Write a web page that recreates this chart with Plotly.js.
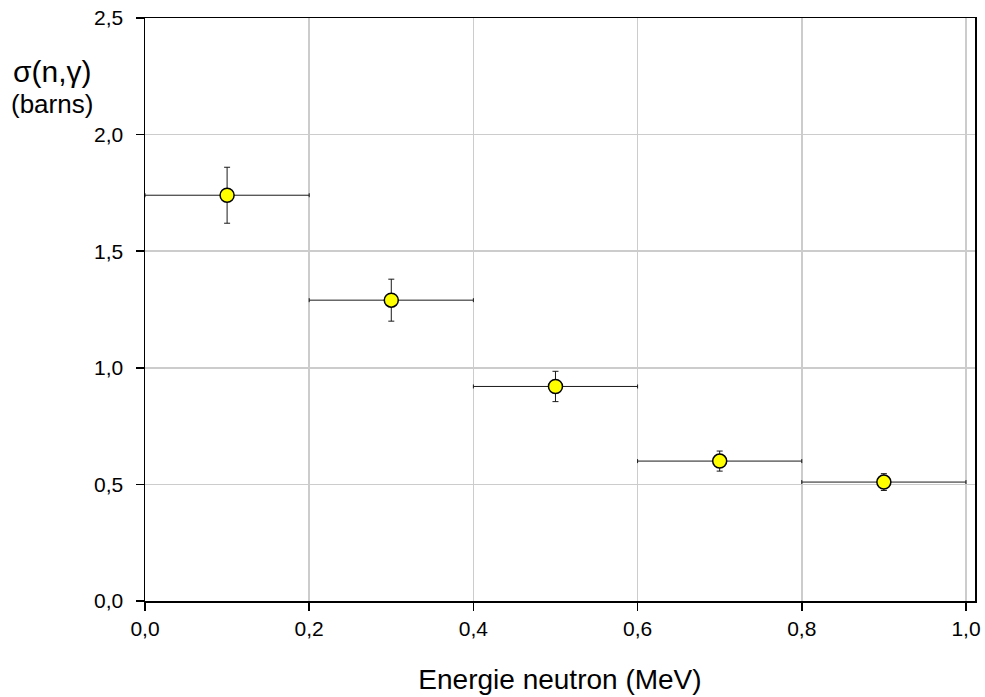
<!DOCTYPE html>
<html>
<head>
<meta charset="utf-8">
<script src="https://cdn.plot.ly/plotly-3.0.1.min.js"></script>
<style>html,body{margin:0;padding:0;background:#fff;}#chart{width:985px;height:697px;}</style>
</head>
<body>
<div id="chart"></div>
<script>
// Data
var energy = [0.1, 0.3, 0.5, 0.7, 0.9];          // MeV (bin centres)
var energyHalfWidth = [0.1, 0.1, 0.1, 0.1, 0.1];  // MeV (half bin width)
var sigma = [1.74, 1.29, 0.92, 0.60, 0.51];       // barns
var sigmaErr = [0.12, 0.09, 0.065, 0.043, 0.036]; // barns
var xTicks = [0, 0.2, 0.4, 0.6, 0.8, 1.0];
var yTicks = [0, 0.5, 1.0, 1.5, 2.0, 2.5];

var trace = {
  x: energy,
  y: sigma,
  mode: 'markers',
  type: 'scatter',
  marker: {size: 14, color: '#ffff00', line: {color: '#000000', width: 1.5}},
  error_x: {type: 'data', array: energyHalfWidth, visible: true, color: '#1a1a1a', thickness: 1, width: 2},
  error_y: {type: 'data', array: sigmaErr, visible: true, color: '#1a1a1a', thickness: 1, width: 3},
  hoverinfo: 'x+y'
};

var fam = 'Liberation Sans, Arial, sans-serif';

var layout = {
  width: 985, height: 697,
  margin: {l: 145, r: 10, t: 18, b: 96},
  paper_bgcolor: '#ffffff', plot_bgcolor: '#ffffff',
  separators: ',.',
  showlegend: false,
  font: {family: fam, color: '#000', size: 21},
  xaxis: {
    range: [0, 1.011], tickvals: xTicks, tickformat: '.1f',
    showgrid: true, gridcolor: '#cccccc', gridwidth: 1.5, zeroline: false,
    showline: true, linecolor: '#000', linewidth: 1.5, mirror: true,
    ticks: 'outside', ticklen: 8, tickcolor: '#000', tickwidth: 1.5,
    tickfont: {size: 21, family: fam, color: '#000'},
    title: {text: 'Energie neutron (MeV)', font: {size: 28, family: fam, color: '#000'}, standoff: 30}
  },
  yaxis: {
    range: [0, 2.5], tickvals: yTicks, tickformat: '.1f',
    showgrid: true, gridcolor: '#cccccc', gridwidth: 1.5, zeroline: false,
    showline: true, linecolor: '#000', linewidth: 1.5, mirror: true,
    ticks: 'outside', ticklen: 8, tickcolor: '#000', tickwidth: 1.5,
    ticklabelstandoff: 8,
    tickfont: {size: 21, family: fam, color: '#000'}
  },
  annotations: [
    {text: 'σ(n,γ)', xref: 'paper', yref: 'paper', x: -0.112, y: 0.908, xanchor: 'center', yanchor: 'middle', showarrow: false, borderpad: 0, font: {size: 30, family: fam, color: '#000'}},
    {text: '(barns)', xref: 'paper', yref: 'paper', x: -0.112, y: 0.853, xanchor: 'center', yanchor: 'middle', showarrow: false, borderpad: 0, font: {size: 26, family: fam, color: '#000'}}
  ]
};

Plotly.newPlot('chart', [trace], layout, {displayModeBar: false, staticPlot: true});
</script>
</body>
</html>
